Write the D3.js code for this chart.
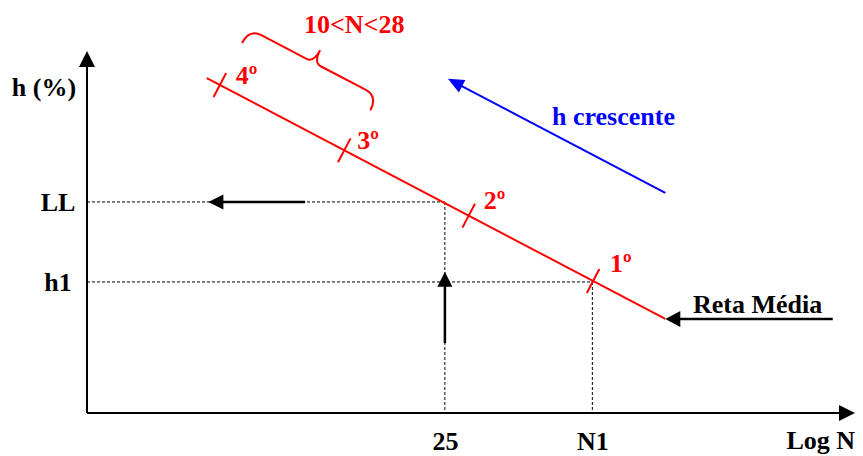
<!DOCTYPE html>
<html>
<head>
<meta charset="utf-8">
<script src="https://cdn.jsdelivr.net/npm/d3@7"></script>
<style>
  html, body { margin: 0; padding: 0; background: #fff; }
  svg { display: block; }
  text { font-family: "Liberation Serif", "Times New Roman", serif; font-weight: bold; }
</style>
</head>
<body>
<svg id="chart" width="863" height="456"></svg>
<script>
// ---- data (abstract units: x = log N, y = h %) ----
const xTickValues = [46.6, 65.8];
const xTickLabels = ["25", "N1"];
const yTickValues = [58.3, 36.2];
const yTickLabels = ["LL", "h1"];
const xTitle = "Log N";
const yTitle = "h (%)";

const lineX = [15.6, 75.3];           // red "reta média"
const lineY = [92.5, 26.0];
const trialX = [17.3, 33.5, 49.7, 65.9]; // positions of trial marks along the line
const trialLabels = ["4º", "3º", "2º", "1º"];
const rangeLabel = "10<N<28";
const trendLabel = "h crescente";
const lineLabel = "Reta Média";

// arrows [x1,y1] -> [x2,y2] (tail -> tip)
const blueArrow = [[75.3, 60.8], [47.0, 92.3]];
const leftArrow = [[28.4, 58.3], [15.8, 58.3]];
const upArrow = [[46.6, 19.3], [46.6, 39.0]];
const retaArrow = [[97.1, 26.0], [75.3, 26.0]];

// ---- layout ----
const svg = d3.select("#chart");
const x = d3.scaleLinear().domain([0, 100]).range([87, 855]);
const y = d3.scaleLinear().domain([0, 100]).range([413, 51]);
const FS = 26;

function lineYAt(v) {
  const t = (v - lineX[0]) / (lineX[1] - lineX[0]);
  return lineY[0] + t * (lineY[1] - lineY[0]);
}

function arrow(g, tail, tip, color, width, headLen, headHalf) {
  const x1 = x(tail[0]), y1 = y(tail[1]), x2 = x(tip[0]), y2 = y(tip[1]);
  const dx = x2 - x1, dy = y2 - y1, L = Math.hypot(dx, dy);
  const ux = dx / L, uy = dy / L;
  const bx = x2 - ux * headLen, by = y2 - uy * headLen;
  g.append("line").attr("x1", x1).attr("y1", y1).attr("x2", bx + ux * 1).attr("y2", by + uy * 1)
    .attr("stroke", color).attr("stroke-width", width);
  g.append("path")
    .attr("d", `M${x2},${y2}L${bx - uy * headHalf},${by + ux * headHalf}L${bx + uy * headHalf},${by - ux * headHalf}Z`)
    .attr("fill", color);
}

// dashed guide lines
const guides = svg.append("g").attr("stroke", "#000").attr("stroke-width", 1).attr("stroke-dasharray", "3,2");
[[xTickValues[0], yTickValues[0]], [xTickValues[1], yTickValues[1]]].forEach(([gx, gy]) => {
  guides.append("line").attr("x1", x(0)).attr("y1", y(gy)).attr("x2", x(gx)).attr("y2", y(gy));
  guides.append("line").attr("x1", x(gx)).attr("y1", y(gy)).attr("x2", x(gx)).attr("y2", y(0));
});

// axes with arrowheads
const axes = svg.append("g");
arrow(axes, [0, 0], [100, 0], "#000", 2, 16, 8);
arrow(axes, [0, 0], [0, 100], "#000", 2, 16, 8);

const xAxis = svg.append("g").attr("transform", `translate(0,${y(0)})`)
  .call(d3.axisBottom(x).tickValues(xTickValues).tickFormat((d, i) => xTickLabels[i]).tickSize(0).tickPadding(18.5));
xAxis.select(".domain").remove();
xAxis.selectAll("text").attr("font-size", FS).attr("fill", "#000")
  .style("font-family", '"Liberation Serif", serif').style("font-weight", "bold");

const yAxis = svg.append("g").attr("transform", `translate(${x(0)},0)`)
  .call(d3.axisLeft(y).tickValues(yTickValues).tickFormat((d, i) => yTickLabels[i]).tickSize(0).tickPadding(29));
yAxis.select(".domain").remove();
yAxis.selectAll("text").attr("font-size", FS).attr("fill", "#000").attr("text-anchor", "middle")
  .style("font-family", '"Liberation Serif", serif').style("font-weight", "bold");

svg.append("text").attr("x", 855).attr("y", 449).attr("text-anchor", "end")
  .attr("font-size", FS).text(xTitle);
svg.append("text").attr("x", 44).attr("y", 96).attr("text-anchor", "middle")
  .attr("font-size", FS).text(yTitle);

// red line
svg.append("line")
  .attr("x1", x(lineX[0])).attr("y1", y(lineY[0]))
  .attr("x2", x(lineX[1])).attr("y2", y(lineY[1]))
  .attr("stroke", "#ff0000").attr("stroke-width", 2);

// trial tick marks perpendicular to the line
const pdx = x(lineX[1]) - x(lineX[0]), pdy = y(lineY[1]) - y(lineY[0]);
const pL = Math.hypot(pdx, pdy);
const nx = pdy / pL, ny = -pdx / pL; // normal (pointing up-right)
const tickHalf = 13.5;
const labelOffsets = [[16, -1], [13, -1], [15, -7], [17, -9]];
trialX.forEach((tv, i) => {
  const cx = x(tv), cy = y(lineYAt(tv));
  svg.append("line")
    .attr("x1", cx - nx * tickHalf).attr("y1", cy - ny * tickHalf)
    .attr("x2", cx + nx * tickHalf).attr("y2", cy + ny * tickHalf)
    .attr("stroke", "#ff0000").attr("stroke-width", 2);
  svg.append("text").attr("x", cx + labelOffsets[i][0]).attr("y", cy + labelOffsets[i][1])
    .attr("font-size", FS).attr("fill", "#ff0000").text(trialLabels[i]);
});

// brace over 4º..3º
(function brace() {
  const ang = Math.atan2(pdy, pdx) * 180 / Math.PI;
  const Lb = 145, h = 16, r = 10, mid = Lb / 2, cusp = 14;
  const p = d3.path();
  p.moveTo(0, 0);
  p.quadraticCurveTo(0, -h, r + 4, -h);
  p.lineTo(mid - 8, -h);
  p.quadraticCurveTo(mid, -h, mid, -h - cusp);
  p.quadraticCurveTo(mid, -h, mid + 8, -h);
  p.lineTo(Lb - r - 4, -h);
  p.quadraticCurveTo(Lb, -h, Lb, 0);
  svg.append("path").attr("d", p.toString())
    .attr("transform", `translate(242,43) rotate(${ang})`)
    .attr("fill", "none").attr("stroke", "#ff0000").attr("stroke-width", 2);
})();
svg.append("text").attr("x", 304).attr("y", 33).attr("font-size", FS).attr("fill", "#ff0000").text(rangeLabel);

// blue arrow & label
arrow(svg.append("g"), blueArrow[0], blueArrow[1], "#0000ff", 2, 16, 7);
svg.append("text").attr("x", 552).attr("y", 125).attr("font-size", FS).attr("fill", "#0000ff").text(trendLabel);

// black arrows
arrow(svg.append("g"), leftArrow[0], leftArrow[1], "#000", 2.5, 15, 7.5);
arrow(svg.append("g"), upArrow[0], upArrow[1], "#000", 2.5, 15, 7.5);
arrow(svg.append("g"), retaArrow[0], retaArrow[1], "#000", 2.5, 15, 8);
svg.append("text").attr("x", 693).attr("y", 313).attr("font-size", FS).attr("fill", "#000").text(lineLabel);
</script>
</body>
</html>
